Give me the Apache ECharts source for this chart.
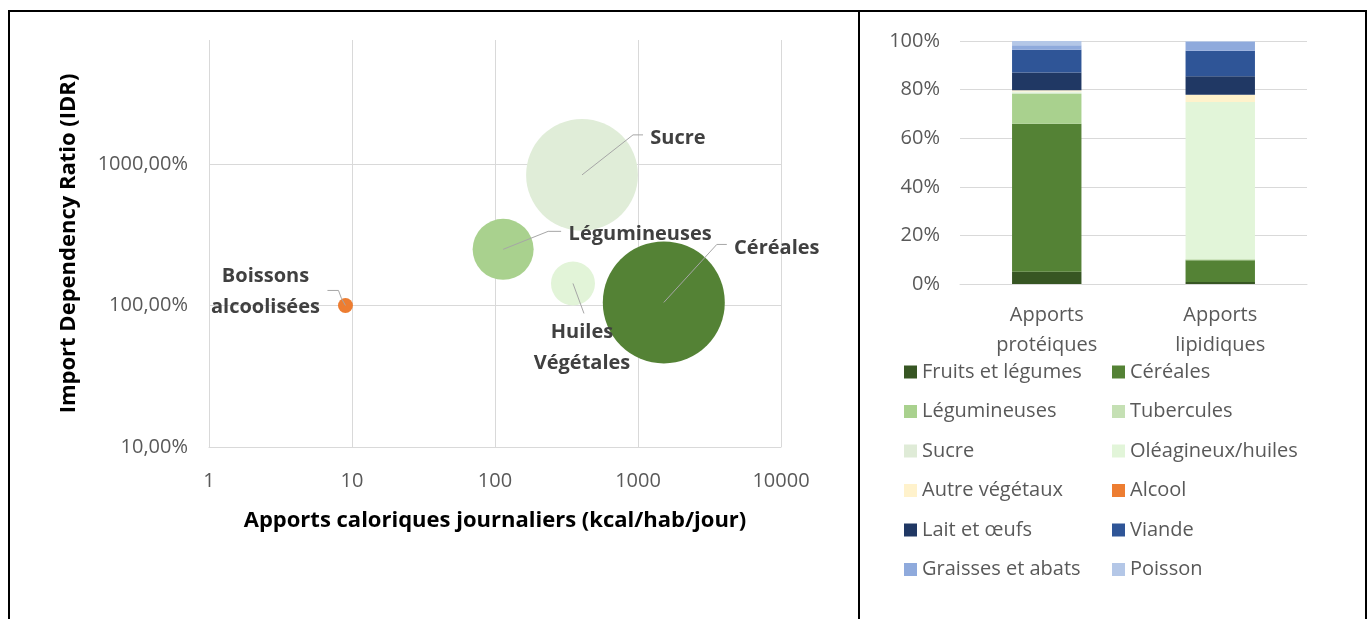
<!DOCTYPE html>
<html>
<head>
<meta charset="utf-8">
<script src="https://cdn.jsdelivr.net/npm/echarts@6/dist/echarts.min.js"></script>
<style>
  html, body { margin: 0; padding: 0; background: #fff; }
  #main { width: 1370px; height: 619px; }
</style>
</head>
<body>
<div id="main"></div>
<script>
// bubble chart data (left)
const bubbleNames = ['Boissons\nalcoolisées', 'Légumineuses', 'Huiles\nVégétales', 'Sucre', 'Céréales'];
const bubbleKcal = [9, 114, 351, 406, 1515];          // kcal/hab/jour
const bubbleIDR = [1.00, 2.49, 1.43, 8.36, 1.05];     // ratio (1 = 100%)
const bubbleWeight = [1.5, 25, 13, 84, 100];          // relative bubble area
const bubbleColors = ['#ed7d31', '#a9d18e', '#e2f4d8', '#e0edd8', '#548235'];
// where each label sits relative to its bubble (px)
const labelShift = [[-80, -14], [137, -15], [9, 64], [96, -37], [113, -54]];
// leader line bends relative to the bubble centre (px)
const leaderBends = [
  [[-4, -7], [-7, -15], [-18, -15]],
  [[45, -18], [58, -18]],
  [[11, 30]],
  [[51, -40], [61, -40]],
  [[53, -58], [63, -58]]
];

// stacked bars (right)
const barCategories = ['Apports\nprotéiques', 'Apports\nlipidiques'];
const fruitsLegumes = [5.0, 0.8];
const cereales = [60.9, 9.0];
const legumineuses = [12.3, 0.3];
const tubercules = [0.3, 0.2];
const sucre = [0.3, 0];
const oleagineux = [0.4, 64.6];
const autreVegetaux = [0.5, 3.0];
const alcool = [0, 0];
const laitOeufs = [7.3, 7.6];
const viande = [9.4, 10.5];
const graissesAbats = [1.9, 3.7];
const poisson = [1.7, 0.3];
const pctTicks = [0, 20, 40, 60, 80, 100];

const stackSeries = [
  ['Fruits et légumes', fruitsLegumes, '#375623'],
  ['Céréales', cereales, '#548235'],
  ['Légumineuses', legumineuses, '#a9d18e'],
  ['Tubercules', tubercules, '#c5e0b4'],
  ['Sucre', sucre, '#dfebd7'],
  ['Oléagineux/huiles', oleagineux, '#e2f5d9'],
  ['Autre végétaux', autreVegetaux, '#fff2cc'],
  ['Alcool', alcool, '#ed7d31'],
  ['Lait et œufs', laitOeufs, '#203864'],
  ['Viande', viande, '#2f5597'],
  ['Graisses et abats', graissesAbats, '#8faadc'],
  ['Poisson', poisson, '#b4c7e7']
];

const FONT = '"Open Sans", "Noto Sans", sans-serif';
const GRAY = '#595959';
const GRID_C = '#d9d9d9';

var myChart = echarts.init(document.getElementById('main'));

const bubbleData = bubbleNames.map((n, i) => [bubbleKcal[i], bubbleIDR[i], bubbleWeight[i], n]);

const barSeries = stackSeries.map(s => ({
  name: s[0],
  type: 'bar',
  stack: 'tot',
  xAxisIndex: 1,
  yAxisIndex: 1,
  barWidth: '40%',
  data: s[1],
  itemStyle: { color: s[2] },
  emphasis: { disabled: true }
}));

const legendNames = stackSeries.map(s => s[0]);
const legendBase = {
  orient: 'vertical', top: 357, itemGap: 19.5,
  icon: 'rect', itemWidth: 13, itemHeight: 13, selectedMode: false,
  textStyle: { fontSize: 20, color: GRAY, fontFamily: FONT }
};

let options = {
  animation: false,
  backgroundColor: '#fff',
  textStyle: { fontFamily: FONT },
  grid: [
    { left: 209, top: 40, width: 572, height: 407 },
    { left: 960, top: 41, width: 347, height: 243 }
  ],
  legend: [
    Object.assign({ left: 899, data: legendNames.filter((n, i) => i % 2 === 0) }, legendBase),
    Object.assign({ left: 1107, data: legendNames.filter((n, i) => i % 2 === 1) }, legendBase)
  ],
  xAxis: [
    {
      type: 'log', gridIndex: 0, min: 1, max: 10000, logBase: 10,
      name: 'Apports caloriques journaliers (kcal/hab/jour)',
      nameLocation: 'middle', nameGap: 63,
      nameTextStyle: { fontSize: 22, fontWeight: 'bold', color: '#000', fontFamily: FONT },
      axisLine: { show: true, lineStyle: { color: GRID_C } },
      axisTick: { show: false },
      axisLabel: { fontSize: 20, color: GRAY, margin: 24, formatter: v => String(Math.round(v)) },
      splitLine: { show: true, lineStyle: { color: GRID_C } }
    },
    {
      type: 'category', gridIndex: 1, data: barCategories,
      axisLine: { show: true, lineStyle: { color: GRID_C } },
      axisTick: { show: false },
      axisLabel: { fontSize: 20, color: GRAY, margin: 16, lineHeight: 30 }
    }
  ],
  yAxis: [
    {
      type: 'log', gridIndex: 0, min: 0.1, max: 75, logBase: 10,
      name: 'Import Dependency Ratio (IDR)',
      nameLocation: 'middle', nameGap: 129, nameRotate: 90,
      nameTextStyle: { fontSize: 22, fontWeight: 'bold', color: '#000', fontFamily: FONT },
      axisLine: { show: false },
      axisTick: { show: false },
      axisLabel: {
        fontSize: 20, color: GRAY, margin: 21, showMaxLabel: false,
        formatter: v => (v * 100).toFixed(2).replace('.', ',') + '%'
      },
      splitLine: { show: true, showMaxLine: false, lineStyle: { color: GRID_C } }
    },
    {
      type: 'value', gridIndex: 1, min: pctTicks[0], max: pctTicks[pctTicks.length - 1], interval: 20,
      axisLine: { show: false },
      axisTick: { show: false },
      axisLabel: { fontSize: 20, color: GRAY, margin: 20, formatter: '{value}%' },
      splitLine: { show: true, lineStyle: { color: GRID_C } }
    }
  ],
  series: [
    {
      name: 'bulles',
      type: 'scatter',
      xAxisIndex: 0,
      yAxisIndex: 0,
      data: bubbleData,
      symbolSize: d => Math.sqrt(d[2]) * 12.2,
      itemStyle: { color: p => bubbleColors[p.dataIndex], opacity: 1 },
      label: {
        show: true, position: 'inside',
        formatter: p => p.data[3],
        fontSize: 20, fontWeight: 'bold', color: '#404040', lineHeight: 31, fontFamily: FONT
      },
      labelLayout: p => ({ dx: labelShift[p.dataIndex][0], dy: labelShift[p.dataIndex][1] }),
      emphasis: { disabled: true }
    }
  ].concat(barSeries)
};
myChart.setOption(options);

// table frame + leader lines (leaders start at the bubble centre given by the axes)
const frame = [
  [[8, 11], [1367, 11]],
  [[9, 10], [9, 619]],
  [[859, 10], [859, 619]],
  [[1366, 10], [1366, 619]]
].map(p => ({ type: 'polyline', shape: { points: p }, style: { stroke: '#000', lineWidth: 2, fill: null }, z: 100 }));

const leaders = bubbleData.map((d, i) => {
  const c = myChart.convertToPixel({ gridIndex: 0 }, [d[0], d[1]]);
  const pts = [c].concat(leaderBends[i].map(b => [c[0] + b[0], c[1] + b[1]]));
  return { type: 'polyline', shape: { points: pts }, style: { stroke: '#a6a6a6', lineWidth: 1, fill: null }, z: 50 };
});

myChart.setOption({ graphic: frame.concat(leaders) });
</script>
</body>
</html>
